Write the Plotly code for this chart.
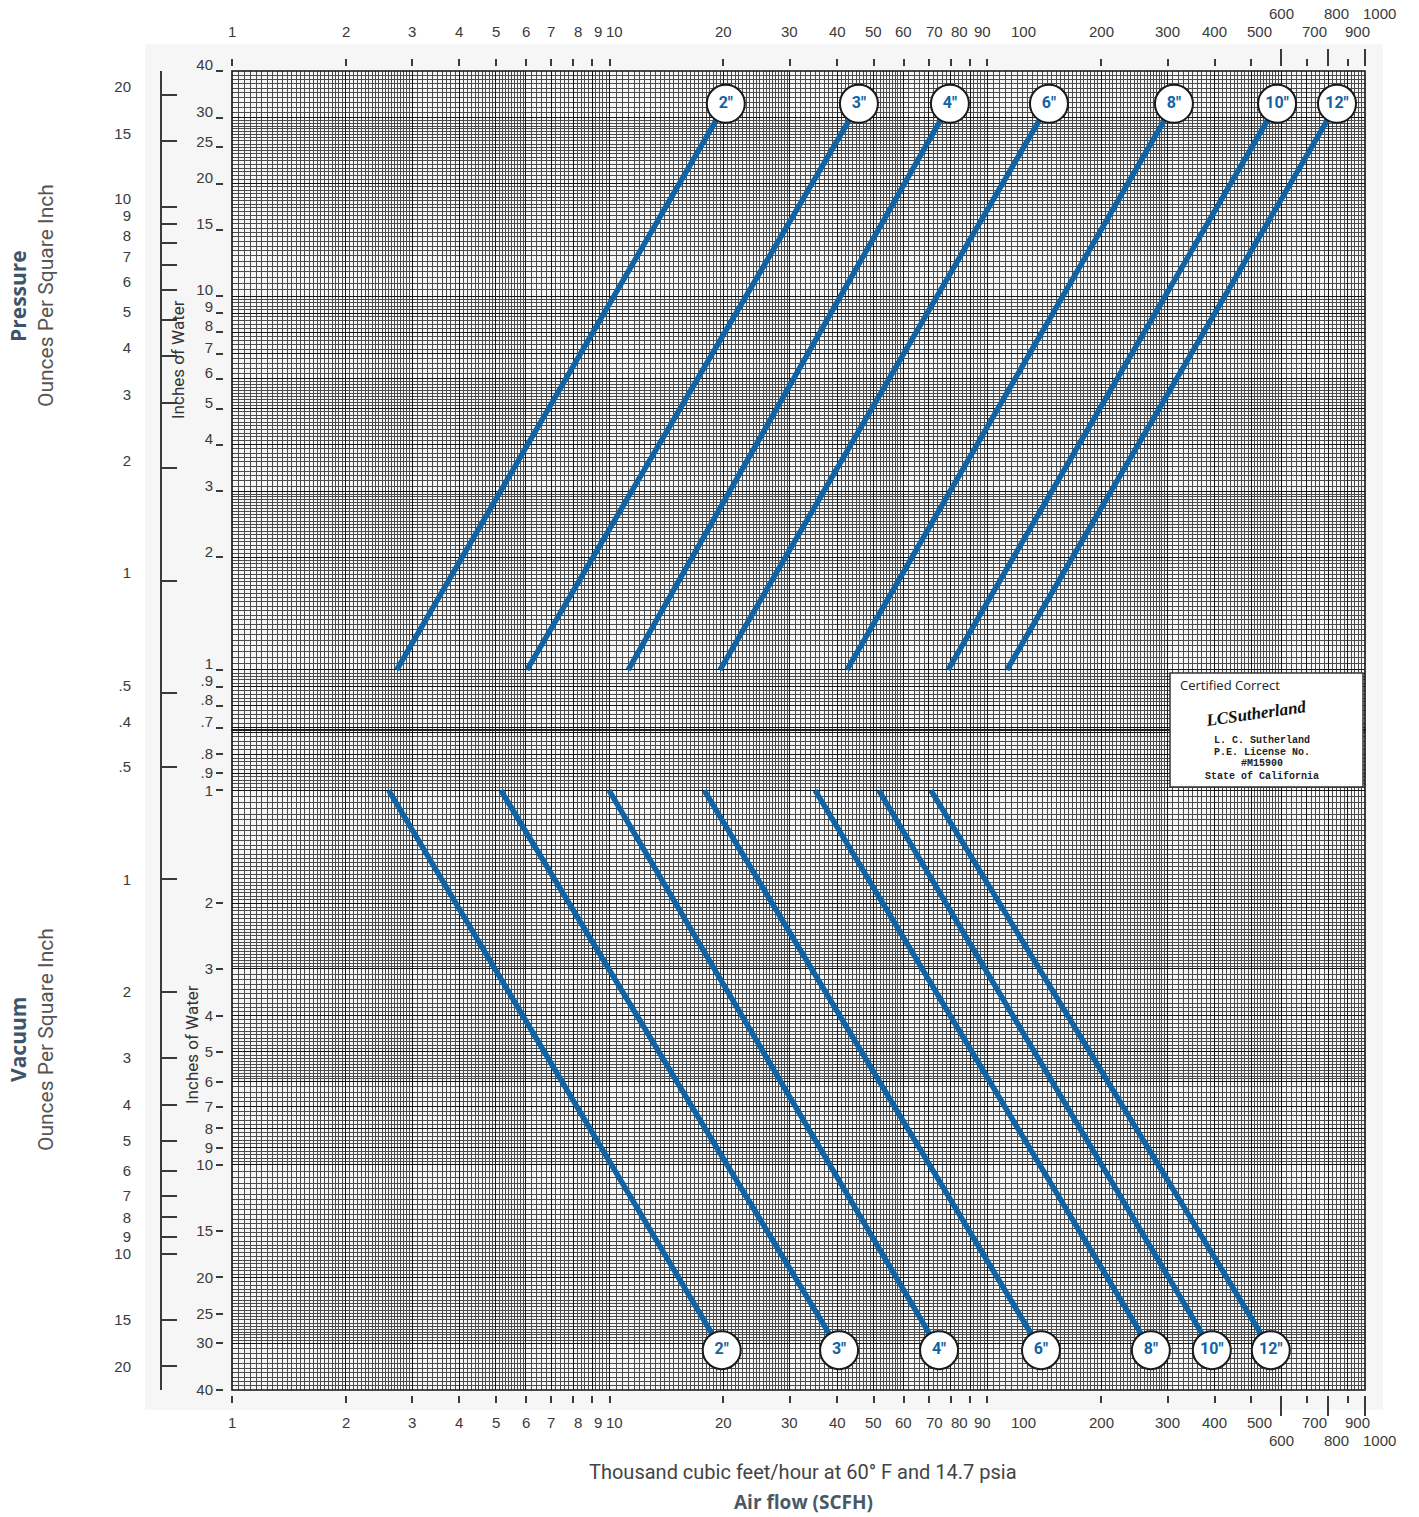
import math
import plotly.graph_objects as go

# ---------------- data ----------------
pipe_sizes = ['2"', '3"', '4"', '6"', '8"', '10"', '12"']

# Pressure side (inches of water column, flow in thousand SCFH)
pressure_flow_start = [2.73, 6.04, 11.2, 19.6, 42.5, 78.7, 112.7]
pressure_flow_end = [20.3, 45.7, 79.6, 145.6, 312.0, 585.0, 843.0]
pressure_inwc_start = 1.0
pressure_inwc_end = 32.7

# Vacuum side
vacuum_flow_start = [2.60, 5.15, 9.96, 17.8, 35.0, 51.6, 70.9]
vacuum_flow_end = [19.8, 40.5, 74.5, 138.7, 271.0, 393.0, 563.0]
vacuum_inwc_start = 1.0
vacuum_inwc_end = 31.3

flow_ticks = [1, 2, 3, 4, 5, 6, 7, 8, 9, 10, 20, 30, 40, 50, 60, 70, 80, 90, 100,
              200, 300, 400, 500, 600, 700, 800, 900, 1000]
flow_ticks_second_row = [600, 800, 1000]

pressure_inch_ticks = [40, 30, 25, 20, 15, 10, 9, 8, 7, 6, 5, 4, 3, 2, 1, 0.9, 0.8, 0.7]
pressure_inch_text = ["40", "30", "25", "20", "15", "10", "9", "8", "7", "6", "5", "4", "3", "2", "1", ".9", ".8", ".7"]
vacuum_inch_ticks = [0.8, 0.9, 1, 2, 3, 4, 5, 6, 7, 8, 9, 10, 15, 20, 25, 30, 40]
vacuum_inch_text = [".8", ".9", "1", "2", "3", "4", "5", "6", "7", "8", "9", "10", "15", "20", "25", "30", "40"]

pressure_oz_ticks = [20, 15, 10, 9, 8, 7, 6, 5, 4, 3, 2, 1, 0.5, 0.4]
pressure_oz_text = ["20", "15", "10", "9", "8", "7", "6", "5", "4", "3", "2", "1", ".5", ".4"]
vacuum_oz_ticks = [0.5, 1, 2, 3, 4, 5, 6, 7, 8, 9, 10, 15, 20]
vacuum_oz_text = [".5", "1", "2", "3", "4", "5", "6", "7", "8", "9", "10", "15", "20"]

INWC_PER_OZ = 1.7296  # inches of water per oz/in^2

# ---------------- layout helpers ----------------
W, H = 1419, 1517
def px(x):
    return x / W
def py(y):
    return 1 - y / H

X_L, X_R = 232, 1365
P_TOP, MID, V_BOT = 71, 730, 1390
Y_LOW, Y_HIGH = 0.69, 40.0
X_LOW, X_HIGH = 1, 1000

BLUE = "#1064a5"
TICK_FONT = dict(family="Liberation Sans, Arial", size=15, color="#3a3a3a")

# horizontal nudges of crowded flow labels, as printed on the original
label_nudge = {8: 5, 9: 6, 10: 5, 70: 6, 80: 9, 90: 12, 100: 36, 500: 8, 700: 8, 800: 8, 900: 10, 1000: 14}

# graph-paper rulings (subdivision pattern per decade)
pattern = [(1, 2, 0.04), (2, 3, 0.05), (3, 6, 0.1), (6, 10, 0.2)]
def rulings(lo, hi):
    vals = []
    for e in range(-1, 4):
        d = 10 ** e
        for a, b, s in pattern:
            n = int(round((b - a) / s))
            for k in range(n):
                v = round((a + k * s) * d, 6)
                if lo <= v <= hi:
                    vals.append(v)
    return sorted(set(vals))
def majors(lo, hi):
    vals = []
    for e in range(-1, 4):
        for m in range(1, 10):
            v = round(m * 10 ** e, 6)
            if lo <= v <= hi:
                vals.append(v)
    return vals

def grid_axis(lo, hi, rng, domain, **kw):
    d = dict(type="log", range=rng, domain=domain, showticklabels=False,
             tickmode="array", tickvals=majors(lo, hi), ticks="",
             showgrid=True, gridcolor="#151515", gridwidth=1.4,
             zeroline=False, showline=False, automargin=False,
             minor=dict(tickmode="array", tickvals=rulings(lo, hi), showgrid=True,
                        gridcolor="#4c4c4c", gridwidth=1, ticks=""))
    d.update(kw)
    return d

fig = go.Figure()

# blue flow lines
for i, s in enumerate(pipe_sizes):
    fig.add_trace(go.Scatter(x=[pressure_flow_start[i], pressure_flow_end[i]],
                             y=[pressure_inwc_start, pressure_inwc_end],
                             mode="lines", line=dict(color=BLUE, width=5.5),
                             xaxis="x", yaxis="y", showlegend=False, hoverinfo="skip"))
    fig.add_trace(go.Scatter(x=[vacuum_flow_start[i], vacuum_flow_end[i]],
                             y=[vacuum_inwc_start, vacuum_inwc_end],
                             mode="lines", line=dict(color=BLUE, width=5.5),
                             xaxis="x", yaxis="y2", showlegend=False, hoverinfo="skip"))

circle_marker = dict(size=38, color="white", line=dict(color="#1a1a1a", width=2))
circle_font = dict(family="Roboto, Open Sans", size=16, color=BLUE, weight="bold")
fig.add_trace(go.Scatter(x=pressure_flow_end, y=[pressure_inwc_end] * len(pipe_sizes),
                         mode="markers+text", text=pipe_sizes, textposition="middle center",
                         marker=circle_marker, textfont=circle_font,
                         xaxis="x", yaxis="y", showlegend=False, hoverinfo="skip"))
fig.add_trace(go.Scatter(x=vacuum_flow_end, y=[vacuum_inwc_end] * len(pipe_sizes),
                         mode="markers+text", text=pipe_sizes, textposition="middle center",
                         marker=circle_marker, textfont=circle_font,
                         xaxis="x", yaxis="y2", showlegend=False, hoverinfo="skip"))

# empty traces to register overlay axes
for xa, ya in [("x2", "y"), ("x3", "y"), ("x4", "y2"), ("x5", "y2"),
               ("x", "y3"), ("x", "y4"), ("x", "y5"), ("x", "y6")]:
    fig.add_trace(go.Scatter(x=[None], y=[None], xaxis=xa, yaxis=ya,
                             showlegend=False, hoverinfo="skip"))

xr = [math.log10(X_LOW), math.log10(X_HIGH)]
pr = [math.log10(Y_LOW), math.log10(Y_HIGH)]
vr = [math.log10(Y_HIGH), math.log10(Y_LOW)]
opr = [math.log10(Y_LOW / INWC_PER_OZ), math.log10(Y_HIGH / INWC_PER_OZ)]
ovr = [opr[1], opr[0]]

xdom = [px(X_L), px(X_R)]
layout = dict(
    width=W, height=H, autosize=False, margin=dict(l=0, r=0, t=0, b=0, pad=0),
    paper_bgcolor="white", plot_bgcolor="#efefef",
    xaxis=grid_axis(X_LOW, X_HIGH, xr, xdom, anchor="y2"),
    yaxis=grid_axis(Y_LOW, Y_HIGH, pr, [py(MID), py(P_TOP)], anchor="x"),
    yaxis2=grid_axis(Y_LOW, Y_HIGH, vr, [py(V_BOT), py(MID)], anchor="x"),
)

def tick_x(vals, pos, side, length):
    return dict(type="log", range=xr, overlaying="x", anchor="free", position=pos, side=side,
                tickmode="array", tickvals=vals, showticklabels=False, ticks="outside",
                ticklen=length, tickwidth=2, tickcolor="#3a3a3a", showgrid=False,
                showline=False, zeroline=False, automargin=False)

layout["xaxis2"] = tick_x(flow_ticks, py(66), "top", 7)
layout["xaxis3"] = tick_x(flow_ticks_second_row, py(66), "top", 17)
layout["xaxis4"] = tick_x(flow_ticks, py(1395), "bottom", 7)
layout["xaxis5"] = tick_x(flow_ticks_second_row, py(1395), "bottom", 20)

def tick_y(over, rng, vals, text, pos, ticks, length, line, standoff, shift):
    return dict(type="log", range=rng, overlaying=over, anchor="free", position=pos, side="left",
                tickmode="array", tickvals=vals, ticktext=text, ticks=ticks, ticklen=length,
                tickwidth=2, tickcolor="#3a3a3a", showgrid=False, zeroline=False,
                showline=line, linecolor="#3a3a3a", linewidth=2, tickfont=TICK_FONT,
                ticklabelstandoff=standoff, ticklabelshift=shift, automargin=False)

layout["yaxis3"] = tick_y("y", pr, pressure_inch_ticks, pressure_inch_text, px(223), "outside", 7, False, 0, -6)
layout["yaxis4"] = tick_y("y2", vr, vacuum_inch_ticks, vacuum_inch_text, px(223), "outside", 7, False, 0, 0)
layout["yaxis5"] = tick_y("y", opr, pressure_oz_ticks, pressure_oz_text, px(161), "inside", 15, True, 26, -8)
layout["yaxis6"] = tick_y("y2", ovr, vacuum_oz_ticks, vacuum_oz_text, px(161), "inside", 15, True, 26, 0)

fig.update_layout(**layout)

# panel borders
for yd in ["y domain", "y2 domain"]:
    fig.add_shape(type="rect", xref="x domain", yref=yd, x0=0, x1=1, y0=0, y1=1,
                  line=dict(color="#111111", width=1.6), layer="above")

# faint scanned-paper backdrop
fig.add_shape(type="rect", xref="paper", yref="paper", x0=px(145), x1=px(1383),
              y0=py(1410), y1=py(44), fillcolor="#f6f6f6", line=dict(width=0), layer="below")

# flow tick labels (top and bottom)
for v in flow_ticks:
    second = v in flow_ticks_second_row
    rows = [13, 1440] if second else [32, 1422]
    for yy in rows:
        fig.add_annotation(x=math.log10(v), xref="x", y=py(yy), yref="paper",
                           text=str(v), showarrow=False, font=TICK_FONT,
                           xshift=label_nudge.get(v, 0),
                           xanchor="center", yanchor="middle")

# axis titles
def vtitle(text, x, y, size, color, family, weight="normal"):
    fig.add_annotation(x=px(x), y=py(y), xref="paper", yref="paper", text=text,
                       textangle=-90, showarrow=False, xanchor="center", yanchor="middle",
                       font=dict(family=family, size=size, color=color, weight=weight))

vtitle("Pressure", 18, 296, 21, "#3e5468", "Open Sans", "bold")
vtitle("Ounces Per Square Inch", 46, 296, 21, "#555555", "Roboto")
vtitle("Inches of Water", 178, 360, 17, "#333333", "Roboto")
vtitle("Vacuum", 18, 1040, 21, "#3e5468", "Open Sans", "bold")
vtitle("Ounces Per Square Inch", 46, 1040, 21, "#555555", "Roboto")
vtitle("Inches of Water", 192, 1045, 17, "#333333", "Roboto")

fig.add_annotation(x=px(803), y=py(1472), xref="paper", yref="paper",
                   text="Thousand cubic feet/hour at 60° F and 14.7 psia", showarrow=False,
                   xanchor="center", yanchor="middle",
                   font=dict(family="Roboto", size=20, color="#444444"))
fig.add_annotation(x=px(803), y=py(1502), xref="paper", yref="paper",
                   text="Air flow (SCFH)", showarrow=False, xanchor="center", yanchor="middle",
                   font=dict(family="Open Sans", size=19, color="#4a5866", weight="bold"))

# certification box
fig.add_shape(type="rect", xref="paper", yref="paper", x0=px(1170), x1=px(1363),
              y0=py(787), y1=py(673), fillcolor="white",
              line=dict(color="#333333", width=1.5), layer="above")
fig.add_annotation(x=px(1178), y=py(685), xref="paper", yref="paper", text="Certified Correct",
                   showarrow=False, xanchor="left", yanchor="middle",
                   font=dict(family="Open Sans", size=13, color="#222222"))
fig.add_annotation(x=px(1256), y=py(713), xref="paper", yref="paper",
                   text="<b><i>LCSutherland</i></b>", showarrow=False, textangle=-8,
                   xanchor="center", yanchor="middle",
                   font=dict(family="Liberation Serif", size=17, color="#111111"))
mono = dict(family="Liberation Mono, DejaVu Sans Mono", size=10, color="#222222", weight="bold")
for txt, yy in [("L. C. Sutherland", 740), ("P.E. License No.", 752),
                ("#M15900", 763), ("State of California", 776)]:
    fig.add_annotation(x=px(1262), y=py(yy), xref="paper", yref="paper", text=txt,
                       showarrow=False, xanchor="center", yanchor="middle", font=mono)

fig.write_html("out.html",
               config={"displayModeBar": False, "responsive": False},
               post_script="document.documentElement.style.margin='0';"
                           "document.body.style.margin='0';"
                           "document.body.style.overflow='hidden';")
